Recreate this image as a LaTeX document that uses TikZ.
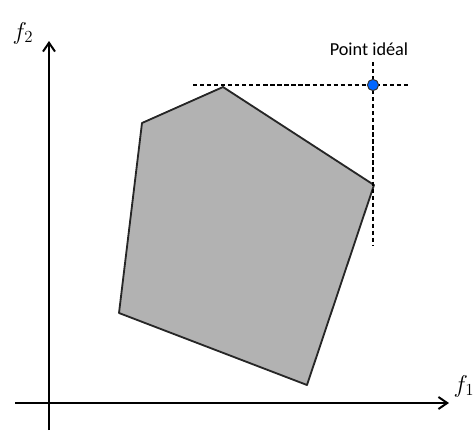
\documentclass[tikz,border=0pt]{standalone}
\usepackage{fontspec}
\newfontfamily\labelfont{Carlito}
\usepackage{amsmath}
\usetikzlibrary{arrows.meta,positioning}

\begin{document}
\begin{tikzpicture}[x=0.025cm, y=-0.025cm,
  axis/.style  = {-{Straight Barb[length=2.2mm,width=3mm]}, line width=1.4pt},
  front/.style = {draw=black!85, line width=1.3pt, fill=black!30, line join=round},
  guide/.style = {densely dashed, line width=1pt},
  ideal/.style = {circle, draw=black!80, fill=blue!60!cyan, line width=0.7pt,
                  inner sep=0pt, minimum size=2.8mm},
  lab/.style   = {font=\labelfont\fontsize{13}{15}\selectfont}
]
\useasboundingbox (0,0) rectangle (476,430);

% ,  Axes ,
\coordinate (o)    at (49,403);
\coordinate (xbeg) at (15,403);
\coordinate (xend) at (449,403);
\coordinate (ybeg) at (49,430);
\coordinate (yend) at (49,41);
\draw[axis] (xbeg) -- (xend);
\draw[axis] (ybeg) -- (yend);
\node[font=\LARGE] (f1) at (464,386) {$f_1$};
\node[font=\LARGE] (f2) at (23,33)  {$f_2$};

% ,  Feasible region (polygon) ,
\coordinate (vtop)   at (223,87);
\coordinate (vright) at (374,185);
\coordinate (vbot)   at (307,385);
\coordinate (vleft)  at (119,313);
\coordinate (vul)    at (142,123);
\draw[front] (vtop) -- (vright) -- (vbot) -- (vleft) -- (vul) -- cycle;

% ,  Ideal point with guide lines ,
\coordinate (hbeg) at (193,85);
\coordinate (hend) at (410,85);
\coordinate (vbeg) at (373,62);
\coordinate (vend) at (373,246);
\draw[guide] (hbeg) -- (hend);
\draw[guide] (vbeg) -- (vend);
\node[ideal] (pt) at (373,85) {};
\node[lab, above=4.5mm of pt, xshift=-1mm] (ptlab) {Point idéal};

\end{tikzpicture}
\end{document}
